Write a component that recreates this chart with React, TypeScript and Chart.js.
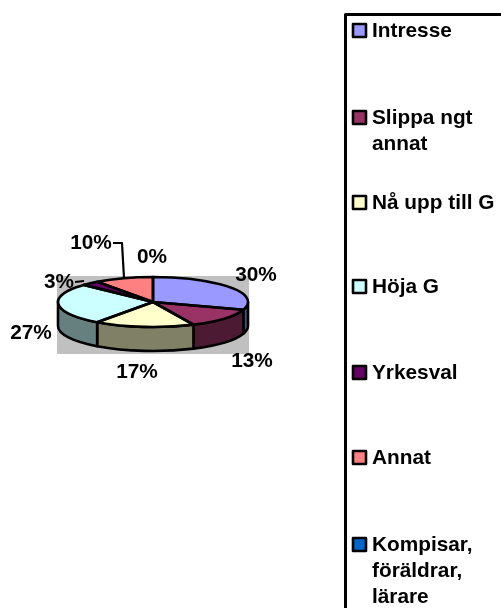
import React, { useEffect, useRef } from "react";
import { Chart, registerables } from "chart.js";

Chart.register(...registerables);

const categories = ["Intresse", "Slippa ngt annat", "Nå upp till G", "Höja G", "Yrkesval", "Annat", "Kompisar, föräldrar, lärare"];
const values = [30, 13, 17, 27, 3, 10, 0];
const topColors = ["#9999FF", "#993366", "#FFFFCC", "#CCFFFF", "#660066", "#FF8080", "#0066CC"];
const sideColors = ["#4D4D80", "#4D1A33", "#808066", "#668080", "#330033", "#804040", "#003366"];
const labelCentres = [
  [256, 275], [252, 361], [137, 372], [31, 333], [59, 282], [91, 243], [152, 257],
];
const legendCentres = [31, 118, 203, 287, 373, 458, 545];

const FONT = 'bold 20.8px "Liberation Sans", Arial, sans-serif';
const TILT = 25 / 95;
const DEPTH = 24;

const pie3d = {
  id: "pie3d",
  beforeDatasetsDraw(chart: any) {
    const { ctx } = chart;
    const arcs = chart.getDatasetMeta(0).data;
    const { x, y, outerRadius: r } = arcs[0];
    ctx.save();
    // plot-area backdrop
    ctx.fillStyle = "#C0C0C0";
    ctx.fillRect(57, 276, 192, 78);
    // walls of the front half
    ctx.lineWidth = 2.6;
    ctx.strokeStyle = "#000";
    ctx.lineJoin = "round";
    arcs.forEach((a: any, i: number) => {
      const s = Math.max(a.startAngle, 0);
      const e = Math.min(a.endAngle, Math.PI);
      if (e <= s) return;
      ctx.beginPath();
      ctx.ellipse(x, y, r, r * TILT, 0, s, e);
      ctx.ellipse(x, y + DEPTH, r, r * TILT, 0, e, s, true);
      ctx.closePath();
      ctx.fillStyle = sideColors[i];
      ctx.fill();
      ctx.stroke();
    });
    ctx.restore();
    // squash the library's arcs into the tilted top face
    ctx.save();
    ctx.translate(x, y);
    ctx.scale(1, TILT);
    ctx.translate(-x, -y);
  },
  afterDatasetsDraw(chart: any) {
    const { ctx } = chart;
    const arcs = chart.getDatasetMeta(0).data;
    const { x, y, outerRadius: r } = arcs[0];
    ctx.restore();
    ctx.save();
    ctx.lineWidth = 2.6;
    ctx.strokeStyle = "#000";
    ctx.lineJoin = "round";
    arcs.forEach((a: any) => {
      if (a.endAngle - a.startAngle <= 0) return;
      ctx.beginPath();
      ctx.moveTo(x, y);
      ctx.ellipse(x, y, r, r * TILT, 0, a.startAngle, a.endAngle);
      ctx.closePath();
      ctx.stroke();
    });
    // leader lines
    ctx.lineWidth = 2.2;
    ctx.beginPath();
    ctx.moveTo(113, 243);
    ctx.lineTo(122, 243);
    ctx.lineTo(124, 278);
    ctx.moveTo(75, 282);
    ctx.lineTo(84, 281);
    ctx.stroke();
    // data labels
    ctx.fillStyle = "#000";
    ctx.font = FONT;
    ctx.textAlign = "center";
    ctx.textBaseline = "middle";
    values.forEach((v, i) => {
      ctx.fillText(`${v}%`, labelCentres[i][0], labelCentres[i][1]);
    });
    // legend
    ctx.lineWidth = 3;
    ctx.strokeStyle = "#000";
    ctx.strokeRect(345.5, 14.5, 400, 800);
    ctx.textAlign = "left";
    categories.forEach((name, i) => {
      const cy = legendCentres[i];
      ctx.lineWidth = 2.6;
      ctx.fillStyle = topColors[i];
      ctx.fillRect(353, cy - 7, 13, 13);
      ctx.strokeRect(353, cy - 7, 13, 13);
      ctx.fillStyle = "#000";
      const lines: string[] = [];
      let cur = "";
      name.split(" ").forEach((w) => {
        const t = cur ? `${cur} ${w}` : w;
        if (ctx.measureText(t).width > 128 && cur) {
          lines.push(cur);
          cur = w;
        } else cur = t;
      });
      lines.push(cur);
      lines.forEach((l, k) => ctx.fillText(l, 372, cy + k * 26));
    });
    ctx.restore();
  },
};

export default function App() {
  const ref = useRef<HTMLCanvasElement>(null);
  useEffect(() => {
    const chart = new Chart(ref.current!, {
      type: "pie",
      data: {
        labels: categories,
        datasets: [{ data: values, backgroundColor: topColors, borderWidth: 0 }],
      },
      options: {
        responsive: false,
        animation: false,
        layout: { padding: { left: 58, right: 253, top: 207, bottom: 211 } },
        plugins: { legend: { display: false }, tooltip: { enabled: false } },
      },
      plugins: [pie3d],
    } as any);
    return () => chart.destroy();
  }, []);
  return (
    <div style={{ position: "absolute", left: 0, top: 0, width: 501, height: 608, overflow: "hidden", background: "#fff" }}>
      <canvas ref={ref} width={501} height={608} style={{ display: "block" }} />
    </div>
  );
}
